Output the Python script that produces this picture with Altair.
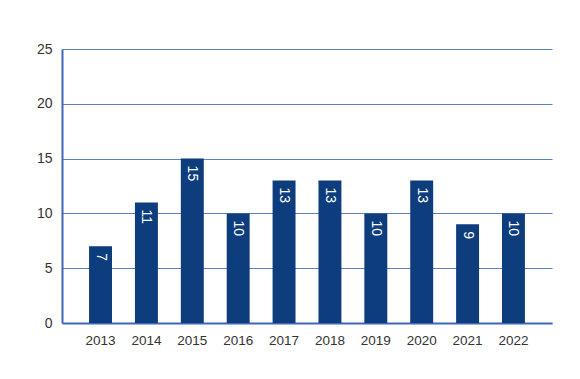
import altair as alt
import pandas as pd

years = ["2013", "2014", "2015", "2016", "2017", "2018", "2019", "2020", "2021", "2022"]
values = [7, 11, 15, 10, 13, 13, 10, 13, 9, 10]
y_ticks = [0, 5, 10, 15, 20, 25]

df = pd.DataFrame({"year": years, "value": values})

FONT = "Liberation Sans"
BAR = "#0d3d7c"
GRID = "#5f7fc6"
DOMAIN = "#3e66b8"

x = alt.X("year:N", sort=years, title=None,
          scale=alt.Scale(paddingInner=0.5, paddingOuter=0.59),
          axis=alt.Axis(labelAngle=0, ticks=False, labelPadding=10, labelFontSize=13.5,
                        labelColor="#333333", labelFont=FONT, domainColor=DOMAIN, domainWidth=2))
y = alt.Y("value:Q", title=None,
          scale=alt.Scale(domain=[0, 25], nice=False),
          axis=alt.Axis(values=y_ticks, ticks=False, labelPadding=10, labelFontSize=14,
                        labelColor="#333333", labelFont=FONT, domainColor=DOMAIN, domainWidth=2,
                        gridColor=GRID, gridWidth=1.2))

bars = alt.Chart(df).mark_bar(color=BAR).encode(x=x, y=y)
labels = alt.Chart(df).mark_text(angle=90, align="left", baseline="middle", dx=7,
                                 color="white", fontSize=14, font=FONT).encode(
    x=alt.X("year:N", sort=years), y="value:Q", text="value:Q")

chart = (bars + labels).properties(
    width=490, height=274,
    autosize=alt.AutoSizeParams(type="none"),
    padding={"left": 54, "top": 41, "right": 20, "bottom": 40},
).configure_view(stroke=None).configure_axis(grid=True).configure_axisX(grid=False)

chart.save("out.html", embed_options={"renderer": "svg", "actions": False})
